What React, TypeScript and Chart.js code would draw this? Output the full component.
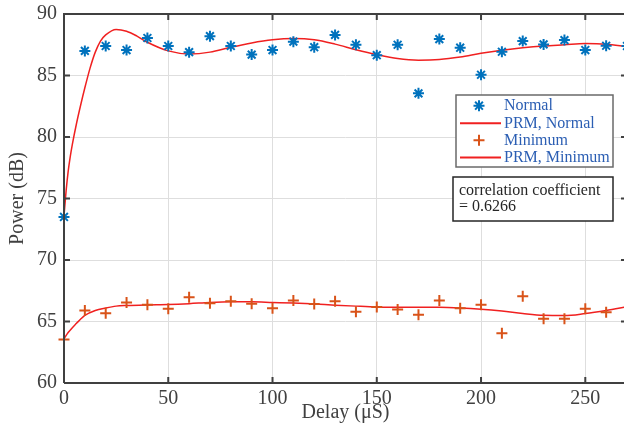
import React, { useEffect, useRef } from 'react';
import { Chart, registerables } from 'chart.js';

Chart.register(...registerables);

// ---- data ----
const delays = [0, 10, 20, 30, 40, 50, 60, 70, 80, 90, 100, 110, 120, 130, 140, 150, 160, 170, 180, 190, 200, 210, 220, 230, 240, 250, 260, 270];
const normalPower = [73.5, 87.0, 87.4, 87.07, 88.05, 87.4, 86.9, 88.2, 87.4, 86.7, 87.07, 87.75, 87.3, 88.3, 87.5, 86.65, 87.5, 83.55, 87.96, 87.26, 85.06, 86.93, 87.8, 87.53, 87.88, 87.07, 87.42, 87.4];

const minimumDelays = [0, 10, 20, 30, 40, 50, 60, 70, 80, 90, 100, 110, 120, 130, 140, 150, 160, 170, 180, 190, 200, 210, 220, 230, 240, 250, 260];
const minimumPower = [63.53, 65.9, 65.68, 66.55, 66.36, 66.03, 66.98, 66.49, 66.65, 66.44, 66.08, 66.71, 66.42, 66.65, 65.8, 66.17, 65.98, 65.55, 66.71, 66.08, 66.36, 64.05, 67.06, 65.22, 65.22, 66.03, 65.76];

const fitNormalX = [0, 1, 2, 3, 4, 6, 8, 10, 12.5, 15, 17.5, 20, 25, 30, 35, 40, 50, 60, 70, 80, 90, 100, 110, 120, 130, 140, 150, 160, 170, 180, 190, 200, 210, 220, 230, 240, 250, 260, 270];
const fitNormalY = [73.6, 75.6, 77.2, 78.4, 79.4, 81.1, 82.6, 84.0, 85.6, 86.9, 87.8, 88.3, 88.75, 88.6, 88.2, 87.7, 87.0, 86.75, 86.9, 87.3, 87.65, 87.9, 88.0, 87.9, 87.55, 87.1, 86.7, 86.38, 86.25, 86.3, 86.5, 86.8, 87.05, 87.25, 87.4, 87.5, 87.6, 87.55, 87.35];

const fitMinimumX = [0, 2, 4, 6, 8, 10, 15, 20, 25, 30, 40, 50, 60, 70, 80, 90, 100, 110, 120, 130, 140, 150, 160, 170, 180, 190, 200, 210, 220, 230, 240, 250, 260, 270];
const fitMinimumY = [63.6, 64.1, 64.5, 64.85, 65.2, 65.5, 65.9, 66.1, 66.25, 66.3, 66.35, 66.38, 66.45, 66.55, 66.6, 66.6, 66.55, 66.5, 66.42, 66.33, 66.25, 66.18, 66.15, 66.15, 66.15, 66.1, 66.0, 65.85, 65.65, 65.5, 65.48, 65.65, 65.9, 66.2];

const xTicks = [0, 50, 100, 150, 200, 250];
const yTicks = [60, 65, 70, 75, 80, 85, 90];
const legendLabels = ['Normal', 'PRM, Normal', 'Minimum', 'PRM, Minimum'];
const noteLines = ['correlation coefficient', '= 0.6266'];
const xTitle = 'Delay (\u03bcS)';
const yTitle = 'Power (dB)';

// ---- styles ----
const BLUE = '#0072BD';
const ORANGE = '#D95319';
const RED = 'rgb(240,32,32)';
const AXIS = '#404040';
const SERIF = '"Liberation Serif", "Times New Roman", serif';

function drawStar(ctx: CanvasRenderingContext2D, x: number, y: number, r: number) {
  const d = r * Math.SQRT1_2;
  ctx.beginPath();
  ctx.moveTo(x - r, y); ctx.lineTo(x + r, y);
  ctx.moveTo(x, y - r); ctx.lineTo(x, y + r);
  ctx.moveTo(x - d, y - d); ctx.lineTo(x + d, y + d);
  ctx.moveTo(x - d, y + d); ctx.lineTo(x + d, y - d);
  ctx.stroke();
}
function drawPlus(ctx: CanvasRenderingContext2D, x: number, y: number, r: number) {
  ctx.beginPath();
  ctx.moveTo(x - r, y); ctx.lineTo(x + r, y);
  ctx.moveTo(x, y - r); ctx.lineTo(x, y + r);
  ctx.stroke();
}

const framePlugin = {
  id: 'frameAndLegend',
  afterDraw(chart: any) {
    const { ctx, chartArea } = chart;
    const { left, right, top, bottom } = chartArea;
    const xs = chart.scales.x;
    const ys = chart.scales.y;
    ctx.save();
    // box
    ctx.strokeStyle = AXIS;
    ctx.lineWidth = 2;
    ctx.beginPath();
    ctx.moveTo(left, bottom); ctx.lineTo(left, top); ctx.lineTo(right, top); ctx.lineTo(right, bottom); ctx.lineTo(left, bottom);
    ctx.stroke();
    // inward ticks
    const tl = 6;
    ctx.beginPath();
    xTicks.forEach((v) => {
      const px = xs.getPixelForValue(v);
      ctx.moveTo(px, bottom); ctx.lineTo(px, bottom - tl);
      ctx.moveTo(px, top); ctx.lineTo(px, top + tl);
    });
    yTicks.forEach((v) => {
      const py = ys.getPixelForValue(v);
      ctx.moveTo(left, py); ctx.lineTo(left + tl, py);
      ctx.moveTo(right, py); ctx.lineTo(right - tl, py);
    });
    ctx.stroke();

    // legend
    const lx = 456, ly = 95, lw = 157, lh = 72;
    ctx.fillStyle = '#ffffff';
    ctx.fillRect(lx, ly, lw, lh);
    ctx.strokeStyle = '#6a6a6a';
    ctx.lineWidth = 1.5;
    ctx.strokeRect(lx, ly, lw, lh);
    const rows = [105.7, 123.3, 140.3, 157.5];
    ctx.font = '16px ' + SERIF;
    ctx.textBaseline = 'middle';
    ctx.textAlign = 'left';
    legendLabels.forEach((label, i) => {
      const ry = rows[i];
      if (i === 0) {
        ctx.strokeStyle = BLUE; ctx.lineWidth = 2;
        drawStar(ctx, 479, ry, 5.5);
      } else if (i === 2) {
        ctx.strokeStyle = ORANGE; ctx.lineWidth = 2;
        drawPlus(ctx, 479, ry, 5.5);
      } else {
        ctx.strokeStyle = RED; ctx.lineWidth = 2;
        ctx.beginPath(); ctx.moveTo(460, ry); ctx.lineTo(501, ry); ctx.stroke();
      }
      ctx.fillStyle = '#2b5eb3';
      ctx.fillText(label, 504, ry);
    });

    // note box
    const nx = 453, ny = 177, nw = 160, nh = 44;
    ctx.fillStyle = '#ffffff';
    ctx.fillRect(nx, ny, nw, nh);
    ctx.strokeStyle = '#262626';
    ctx.lineWidth = 1.5;
    ctx.strokeRect(nx, ny, nw, nh);
    ctx.fillStyle = '#262626';
    ctx.textBaseline = 'alphabetic';
    ctx.font = '16px ' + SERIF;
    ctx.fillText(noteLines[0], 459, 195);
    ctx.fillText(noteLines[1], 459, 210.5);
    ctx.restore();
  },
};

export default function App() {
  const ref = useRef<HTMLCanvasElement | null>(null);
  useEffect(() => {
    if (!ref.current) return;
    const chart = new Chart(ref.current, {
      type: 'scatter',
      data: {
        datasets: [
          {
            label: legendLabels[0],
            data: delays.map((x, i) => ({ x, y: normalPower[i] })),
            pointStyle: 'star',
            pointRadius: 5.5,
            pointBorderWidth: 2,
            borderColor: BLUE,
            backgroundColor: BLUE,
            showLine: false,
            clip: false as any,
          },
          {
            label: legendLabels[1],
            data: fitNormalX.map((x, i) => ({ x, y: fitNormalY[i] })),
            showLine: true,
            pointRadius: 0,
            borderColor: RED,
            borderWidth: 1.5,
            cubicInterpolationMode: 'monotone',
          },
          {
            label: legendLabels[2],
            data: minimumDelays.map((x, i) => ({ x, y: minimumPower[i] })),
            pointStyle: 'cross',
            pointRadius: 5.5,
            pointBorderWidth: 2,
            borderColor: ORANGE,
            backgroundColor: ORANGE,
            showLine: false,
            clip: false as any,
          },
          {
            label: legendLabels[3],
            data: fitMinimumX.map((x, i) => ({ x, y: fitMinimumY[i] })),
            showLine: true,
            pointRadius: 0,
            borderColor: RED,
            borderWidth: 1.5,
            cubicInterpolationMode: 'monotone',
          },
        ],
      },
      options: {
        animation: false,
        responsive: false,
        maintainAspectRatio: false,
        layout: { autoPadding: false, padding: { top: 14, right: 0, left: 0, bottom: 0 } },
        plugins: {
          legend: { display: false },
          tooltip: { enabled: false },
        },
        scales: {
          x: {
            type: 'linear',
            min: 0,
            max: 270,
            afterBuildTicks: (scale: any) => {
              scale.ticks = xTicks.map((v) => ({ value: v }));
            },
            afterFit: (scale: any) => {
              scale.height = 43;
              scale.paddingLeft = 0;
              scale.paddingRight = 0;
              scale.paddingTop = 0;
              scale.paddingBottom = 0;
            },
            grid: { color: '#dedede', lineWidth: 1, drawTicks: false },
            border: { display: false },
            ticks: {
              color: AXIS,
              padding: 4,
              font: { family: SERIF, size: 20 },
              maxRotation: 0,
            },
            title: {
              display: true,
              text: xTitle,
              color: AXIS,
              font: { family: SERIF, size: 20 },
              padding: { top: 0, bottom: 1 },
            },
          },
          y: {
            type: 'linear',
            min: 60,
            max: 90,
            afterBuildTicks: (scale: any) => {
              scale.ticks = yTicks.map((v) => ({ value: v }));
            },
            afterFit: (scale: any) => {
              scale.width = 64;
              scale.paddingLeft = 0;
              scale.paddingRight = 0;
              scale.paddingTop = 0;
              scale.paddingBottom = 0;
            },
            grid: { color: '#dedede', lineWidth: 1, drawTicks: false },
            border: { display: false },
            ticks: {
              color: AXIS,
              padding: 7,
              font: { family: SERIF, size: 20 },
            },
            title: {
              display: true,
              text: yTitle,
              color: AXIS,
              font: { family: SERIF, size: 20 },
              padding: { top: 6, bottom: 0 },
            },
          },
        },
      },
      plugins: [framePlugin],
    });
    return () => chart.destroy();
  }, []);

  return (
    <div style={{ position: 'fixed', left: 0, top: 0, width: 624, height: 426, overflow: 'hidden', background: '#ffffff' }}>
      <canvas ref={ref} width={627} height={426} style={{ display: 'block', width: 627, height: 426 }} />
    </div>
  );
}
